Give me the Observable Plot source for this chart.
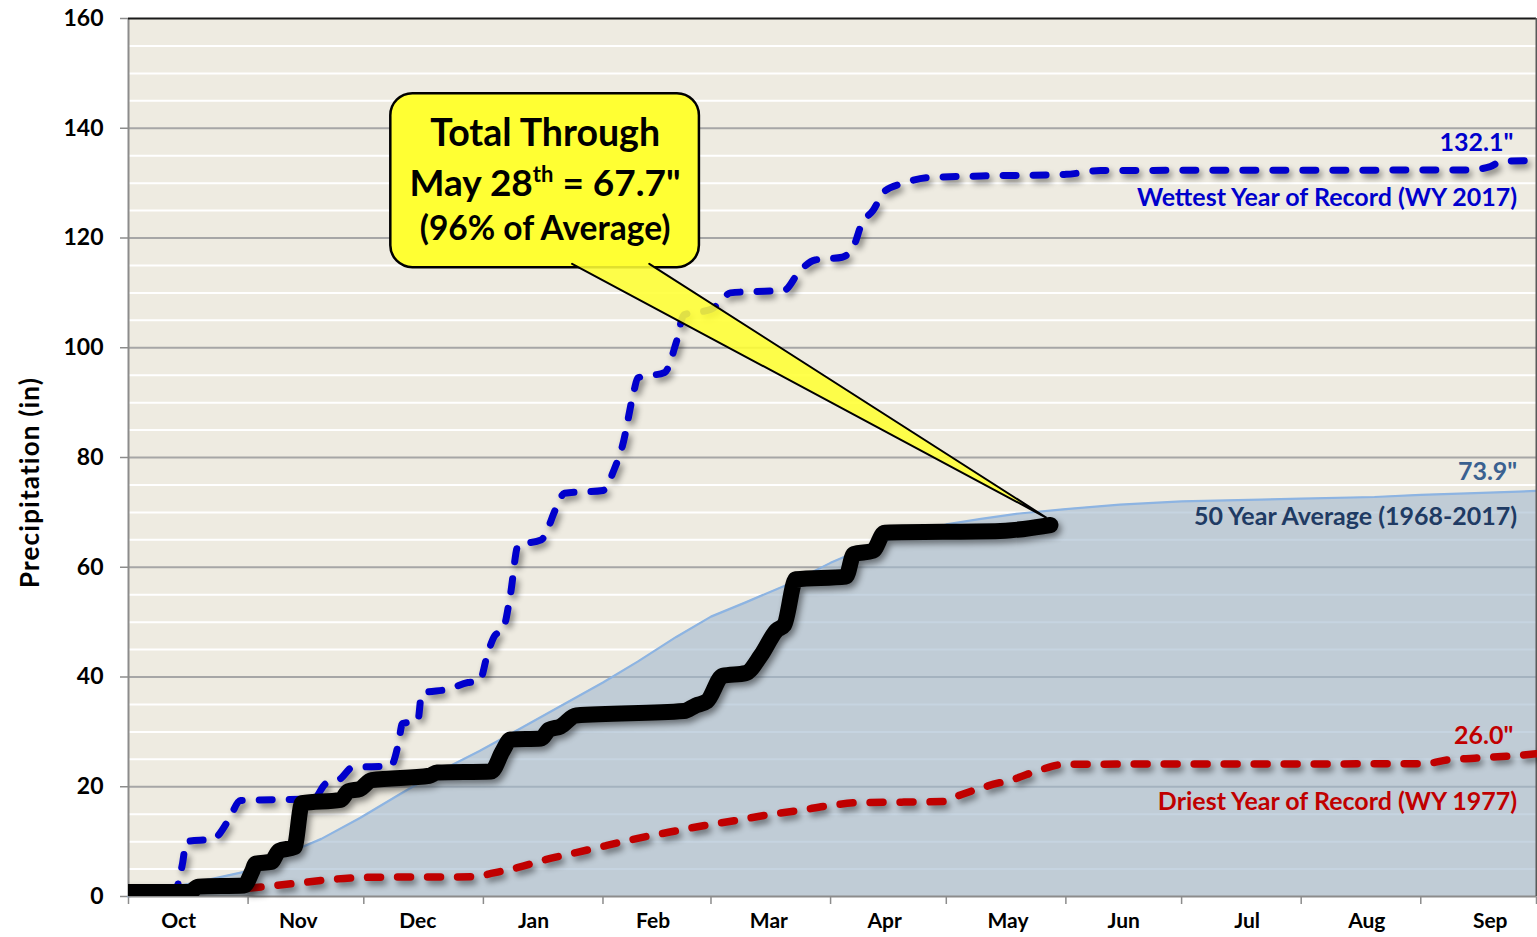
<!DOCTYPE html>
<html>
<head>
<meta charset="utf-8">
<script src="https://cdn.jsdelivr.net/npm/d3@7"></script>
<script src="https://cdn.jsdelivr.net/npm/@observablehq/plot@0.6"></script>
<style>
  html, body { margin: 0; padding: 0; background: #ffffff; }
  #chart svg { display: block; }
  [aria-label^="y-axis"] line, [aria-label="y-axis tick"] path,
  [aria-label^="x-axis"] line, [aria-label="x-axis tick"] path { stroke: #8c8c8c; stroke-width: 1.5px; }
  [aria-label^="y-axis"] path.domain, [aria-label^="x-axis"] path.domain { display: none; }
</style>
</head>
<body>
<div id="chart"></div>
<script>
// ---------- data (dates mapped onto the water-year calendar Oct 1 – Sep 30) ----------
const currentYear = [ // WY 2018 cumulative precipitation (in)
  ["2017-10-01",0.8],["2017-10-17",0.8],["2017-10-19",1.8],["2017-10-31",2.0],
  ["2017-11-02",4.5],["2017-11-03",6.0],["2017-11-07",6.3],["2017-11-09",8.3],
  ["2017-11-13",9.0],["2017-11-15",17.0],["2017-11-25",17.6],["2017-11-27",19.2],
  ["2017-11-30",19.6],["2017-12-03",21.2],["2017-12-18",22.0],["2017-12-20",22.6],
  ["2018-01-03",22.8],["2018-01-06",26.5],["2018-01-08",28.6],["2018-01-16",28.8],
  ["2018-01-18",30.4],["2018-01-21",31.0],["2018-01-25",33.0],["2018-02-22",33.8],
  ["2018-02-25",34.8],["2018-02-28",35.6],["2018-03-04",40.2],["2018-03-10",40.7],
  ["2018-03-14",44.0],["2018-03-18",48.5],["2018-03-20",49.5],["2018-03-23",57.8],
  ["2018-04-05",58.3],["2018-04-07",62.4],["2018-04-12",63.0],["2018-04-15",66.3],
  ["2018-05-15",66.6],["2018-05-28",67.7]
];
const wettestYear = [ // WY 2017
  ["2017-10-13",0],["2017-10-15",6],["2017-10-16",10],
  ["2017-10-23",10.5],["2017-10-27",14],["2017-10-30",17.5],["2017-11-18",17.8],
  ["2017-11-21",20.5],["2017-11-25",21.5],["2017-11-28",23.5],["2017-12-08",23.8],
  ["2017-12-10",28],["2017-12-11",31.5],["2017-12-15",32],["2017-12-16",37],
  ["2017-12-23",37.8],["2017-12-28",39],["2017-12-31",39.2],["2018-01-02",44],
  ["2018-01-04",47.6],["2018-01-06",48.5],["2018-01-08",55],["2018-01-10",64],
  ["2018-01-16",65],["2018-01-20",71],["2018-01-22",73.5],["2018-02-01",74],
  ["2018-02-04",78],["2018-02-06",82],["2018-02-09",92],["2018-02-10",94.5],
  ["2018-02-17",95.5],["2018-02-20",101],["2018-02-22",106],["2018-03-01",107],
  ["2018-03-03",108],["2018-03-06",110],["2018-03-20",110.5],["2018-03-24",114],
  ["2018-03-28",116],["2018-04-04",116.5],["2018-04-07",118.5],["2018-04-09",122.5],
  ["2018-04-12",125],["2018-04-15",128.5],["2018-04-20",130],["2018-04-26",131],
  ["2018-05-10",131.3],["2018-06-01",131.6],["2018-06-10",132.3],["2018-09-13",132.4],
  ["2018-09-19",133],["2018-09-22",134],["2018-10-01",134.1]
];
const driestYear = [ // WY 1977
  ["2017-11-01",1.5],["2017-11-08",2.0],["2017-11-16",2.6],["2017-11-24",3.2],
  ["2017-12-03",3.5],["2017-12-30",3.6],["2018-01-03",4.2],["2018-01-10",5.3],
  ["2018-01-17",6.7],["2018-01-25",8.0],["2018-02-02",9.3],["2018-02-10",10.6],
  ["2018-02-18",11.7],["2018-02-27",12.9],["2018-03-07",13.8],["2018-03-15",14.8],
  ["2018-03-24",15.7],["2018-04-01",16.6],["2018-04-08",17.1],["2018-04-20",17.2],
  ["2018-04-30",17.3],["2018-05-05",18.6],["2018-05-12",20.2],["2018-05-19",21.5],
  ["2018-05-25",23.0],["2018-06-01",24.1],["2018-09-02",24.2],["2018-09-08",24.9],
  ["2018-09-15",25.2],["2018-09-22",25.5],["2018-10-01",26.0]
];
const averageYear = [ // 50 year average 1968-2017
  ["2017-10-01",0],["2017-10-10",1.3],["2017-10-20",2.8],["2017-10-31",4.5],
  ["2017-11-10",7.5],["2017-11-20",10.5],["2017-11-30",14.3],["2017-12-10",18.5],
  ["2017-12-20",22.6],["2017-12-31",26.5],["2018-01-10",30.4],["2018-01-20",34.3],
  ["2018-02-01",39.0],["2018-02-10",42.8],["2018-02-20",47.3],["2018-03-01",51.0],
  ["2018-03-10",53.6],["2018-03-20",56.6],["2018-04-01",60.8],["2018-04-10",63.5],
  ["2018-04-20",66.0],["2018-05-01",67.8],["2018-05-10",68.8],["2018-05-20",69.8],
  ["2018-06-01",70.6],["2018-06-15",71.4],["2018-07-01",72.0],["2018-08-01",72.5],
  ["2018-08-20",72.8],["2018-09-01",73.2],["2018-09-15",73.5],["2018-10-01",73.9]
];
const monthStarts = ["2017-10-01","2017-11-01","2017-12-01","2018-01-01","2018-02-01","2018-03-01",
  "2018-04-01","2018-05-01","2018-06-01","2018-07-01","2018-08-01","2018-09-01","2018-10-01"];
const monthLabels = ["Oct","Nov","Dec","Jan","Feb","Mar","Apr","May","Jun","Jul","Aug","Sep"];
const monthLabelDates = ["2017-10-14","2017-11-14","2017-12-15","2018-01-14","2018-02-14","2018-03-16",
  "2018-04-15","2018-05-17","2018-06-16","2018-07-18","2018-08-18","2018-09-19"];
const yTicks = [0,20,40,60,80,100,120,140,160];
const minorGrid = [5,10,15,25,30,35,45,50,55,65,70,75,85,90,95,105,110,115,125,130,135,145,150,155];
const seriesLabels = [
  {date:"2018-09-25", value:137.4, text:"132.1\"", color:"#0000CC"},
  {date:"2018-09-26", value:127.2, text:"Wettest Year of Record (WY 2017)", color:"#0000CC"},
  {date:"2018-09-26", value:77.3, text:"73.9\"", color:"#3A6190"},
  {date:"2018-09-26", value:69.1, text:"50 Year Average (1968-2017)", color:"#1F3B64"},
  {date:"2018-09-25", value:29.2, text:"26.0\"", color:"#C00000"},
  {date:"2018-09-26", value:17.3, text:"Driest Year of Record (WY 1977)", color:"#C00000"}
];
// callout (data coordinates)
const calloutBox = [{x1:"2017-12-08", x2:"2018-02-26", y1:114.6, y2:146.3}];
const calloutPointer = [["2018-01-24",115.3],["2018-05-27",69.0],["2018-02-13",115.3]];
const calloutLines = [
  {date:"2018-01-17", value:139.0, text:"Total Through", size:37.5},
  {date:"2018-01-17", value:129.9, text:"May 28th = 67.7\"", size:37},
  {date:"2018-01-17", value:121.6, text:"(96% of Average)", size:33.5}
];

// ---------- build ----------
const D = s => new Date(s);
const toRows = arr => arr.map(([d, v]) => ({date: D(d), value: v}));
const cur = toRows(currentYear), wet = toRows(wettestYear), dry = toRows(driestYear), avg = toRows(averageYear);
const ptr = toRows(calloutPointer);
const box = calloutBox.map(b => ({x1: D(b.x1), x2: D(b.x2), y1: b.y1, y2: b.y2}));
const xStart = D(monthStarts[0]), xEnd = D(monthStarts[monthStarts.length - 1]);

const plot = Plot.plot({
  width: 1537, height: 937,
  marginLeft: 128, marginRight: 1, marginTop: 18, marginBottom: 41,
  style: {fontFamily: "Lato, 'Open Sans', sans-serif", fontWeight: "bold", fontSize: "23px", background: "#ffffff", color: "#000", overflow: "visible"},
  x: {type: "utc", domain: [xStart, xEnd], ticks: monthStarts.map(D), tickFormat: () => "", tickSize: 8, label: null},
  y: {domain: [0, 160], ticks: yTicks, tickSize: 8, tickPadding: 17, label: null},
  marks: [
    Plot.frame({fill: "#EEEBE1", stroke: "none"}),
    Plot.ruleY(minorGrid, {stroke: "#ffffff", strokeWidth: 2}),
    Plot.ruleY(yTicks.filter(t => t > 0 && t < 160), {stroke: "#A6A6A6", strokeWidth: 2}),
    Plot.areaY(avg, {x: "date", y: "value", fill: "#A3B9CF", fillOpacity: 0.62}),
    Plot.line(avg, {x: "date", y: "value", stroke: "#8DB4E2", strokeWidth: 2.2}),
    Plot.ruleY([0], {stroke: "#8c8c8c", strokeWidth: 2}),
    Plot.ruleX([xStart], {stroke: "#8c8c8c", strokeWidth: 2}),
    Plot.ruleY([160], {stroke: "#1a1a1a", strokeWidth: 2}),
    Plot.ruleX([xEnd], {stroke: "#595959", strokeWidth: 2}),
    Plot.line(dry, {x: "date", y: "value", stroke: "#C00000", strokeWidth: 7.5, strokeDasharray: "13,17", strokeLinecap: "round", curve: "monotone-x"}),
    Plot.line(wet, {x: "date", y: "value", stroke: "#0000CC", strokeWidth: 7, strokeDasharray: "13,17", strokeLinecap: "round", curve: "monotone-x", clip: true}),
    Plot.line(cur, {x: "date", y: "value", stroke: "#000000", strokeWidth: 16, strokeLinecap: "round", strokeLinejoin: "round", curve: "monotone-x", clip: true}),
    // callout
    Plot.rect(box, {x1: "x1", x2: "x2", y1: "y1", y2: "y2", fill: "#FFFF33", stroke: "#000", strokeWidth: 2.5, rx: 22}),
    Plot.line(ptr, {x: "date", y: "value", fill: "#FFFF33", fillOpacity: 0.88, stroke: "#000", strokeWidth: 2, strokeLinejoin: "miter"}),
    Plot.text(calloutLines, {x: d => D(d.date), y: "value", text: "text", fontSize: d => d.size, fill: "#000"}),
    // series labels
    Plot.text(seriesLabels, {x: d => D(d.date), y: "value", text: "text", fill: "color", textAnchor: "end", fontSize: 25}),
    // month labels
    Plot.text(monthLabels, {x: (d, i) => D(monthLabelDates[i]), y: () => 0, text: d => d, dy: 25, fontSize: 21, fill: "#000"}),
    // y axis title
    Plot.text(["Precipitation (in)"], {frameAnchor: "left", text: d => d, dx: -98, dy: 25, rotate: -90, textAnchor: "middle", fontSize: 26, fill: "#000"})
  ]
});

// drop shadows on the three thick data series
plot.querySelectorAll("g").forEach(g => {
  const w = parseFloat(g.getAttribute("stroke-width"));
  if (w >= 7) g.style.filter = "drop-shadow(3px 4px 3px rgba(0,0,0,0.45))";
});
plot.querySelectorAll("text").forEach(t => {
  if (t.textContent === "Precipitation (in)") t.style.letterSpacing = "1.2px";
  if (t.textContent === "May 28th = 67.7\"") { // superscript "th"
    t.textContent = "";
    const ns = "http://www.w3.org/2000/svg";
    const a = document.createElementNS(ns, "tspan"); a.textContent = "May 28";
    const b = document.createElementNS(ns, "tspan"); b.textContent = "th"; b.setAttribute("font-size", "22"); b.setAttribute("dy", "-14");
    const c = document.createElementNS(ns, "tspan"); c.textContent = " = 67.7\""; c.setAttribute("dy", "14");
    t.append(a, b, c);
  }
});
document.getElementById("chart").appendChild(plot);
</script>
</body>
</html>
